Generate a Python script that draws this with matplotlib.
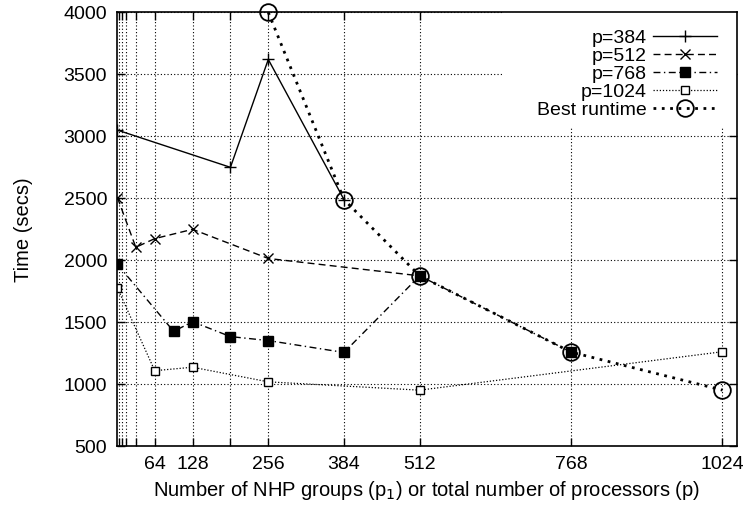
import matplotlib
matplotlib.use("Agg")
import matplotlib.pyplot as plt
from matplotlib.patches import Rectangle

plt.rcParams['font.family'] = ['Liberation Sans', 'DejaVu Sans']
plt.rcParams['font.size'] = 14.5

# runtime (secs) vs number of NHP groups p1, one series per total processor count p
p384_x = [1, 192, 256, 384]
p384_t = [3045, 2745, 3615, 2485]

p512_x = [1, 32, 64, 128, 256, 512]
p512_t = [2500, 2100, 2170, 2245, 2010, 1870]

p768_x = [1, 96, 128, 192, 256, 384, 512, 768]
p768_t = [1962, 1422, 1500, 1380, 1348, 1252, 1870, 1255]

p1024_x = [1, 64, 128, 256, 512, 1024]
p1024_t = [1772, 1105, 1133, 1015, 948, 1258]

# best runtime for each total number of processors p
best_p = [256, 384, 512, 768, 1024]
best_t = [3995, 2485, 1870, 1255, 948]

xtick_pos = [4, 8, 16, 32, 64, 128, 192, 256, 384, 512, 768, 1024]
xtick_lab = ['', '', '', '', '64', '128', '', '256', '384', '512', '768', '1024']
ytick_pos = [500, 1000, 1500, 2000, 2500, 3000, 3500, 4000]

fig = plt.figure(figsize=(7.43, 5.10), dpi=100)
ax = fig.add_axes([0.1573, 0.1241, 0.8342, 0.851])

ax.plot(p384_x, p384_t, color='black', lw=1, ls='-', marker='+', ms=8, mew=1,
        label='p=384')
ax.plot(p512_x, p512_t, color='black', lw=1, ls=(0, (5, 3)), marker='x', ms=7, mew=1,
        label='p=512')
ax.plot(p768_x, p768_t, color='black', lw=1, ls=(0, (5, 2.5, 1, 2.5)), marker='s', ms=6.5,
        mfc='black', label='p=768')
ax.plot(p1024_x, p1024_t, color='black', lw=0.9, ls=(0, (1, 1.5)), marker='s', ms=6,
        mfc='white', mew=1, label='p=1024')
ax.plot(best_p, best_t, color='black', lw=2, ls=(0, (1, 2)), marker='o', ms=12,
        mfc='none', mew=1.3, label='Best runtime', clip_on=False, zorder=5)

ax.set_xlim(0, 1048)
ax.set_ylim(500, 4000)
ax.set_xticks(xtick_pos)
ax.set_xticklabels(xtick_lab)
ax.set_yticks(ytick_pos)
ax.tick_params(direction='in', length=6, width=1, top=True, right=True, pad=7,
               labelsize=14)
ax.grid(True, color='black', ls=(0, (1, 2)), lw=0.8)
ax.set_axisbelow(True)
for s in ax.spines.values():
    s.set_linewidth(1.2)

# key area is blanked out over the grid
ax.add_patch(Rectangle((651, 3070), 397, 930, facecolor='white', edgecolor='none',
                       zorder=1.5))

ax.set_xlabel('Number of NHP groups (p$_1$) or total number of processors (p)',
              labelpad=4)
ax.set_ylabel('Time (secs)', labelpad=22)

leg = ax.legend(loc='upper right', bbox_to_anchor=(0.99, 0.992), markerfirst=False,
                frameon=False, handlelength=3.3, labelspacing=0.02, borderpad=0.2,
                handletextpad=0.3, fontsize=14)

fig.savefig('out.png', dpi=100)
